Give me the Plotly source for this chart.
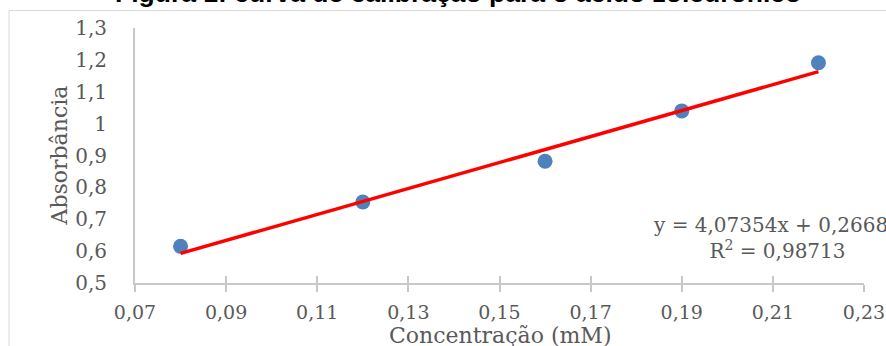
import plotly.graph_objects as go

# Data
concentracao = [0.08, 0.12, 0.16, 0.19, 0.22]
absorbancia = [0.615, 0.754, 0.882, 1.040, 1.191]
slope = 4.07354
intercept = 0.26687
r2 = 0.98713
x_ticks = [0.07, 0.09, 0.11, 0.13, 0.15, 0.17, 0.19, 0.21, 0.23]
y_ticks = [0.5, 0.6, 0.7, 0.8, 0.9, 1.0, 1.1, 1.2, 1.3]

title_text = "Figura 1: curva de calibração para o ácido zoledrônico"
x_title = "Concentração (mM)"
y_title = "Absorbância"

def fmt(v, d):
    return f"{v:.{d}f}".replace(".", ",")

fit_x = [concentracao[0], concentracao[-1]]
fit_y = [slope * v + intercept for v in fit_x]

SERIF = "DejaVu Serif"
GRAY = "#595959"

fig = go.Figure()
fig.add_trace(go.Scatter(
    x=concentracao, y=absorbancia, mode="markers",
    marker=dict(color="#4F81BD", size=15, line=dict(width=0)),
    showlegend=False, hoverinfo="skip"))
fig.add_trace(go.Scatter(
    x=fit_x, y=fit_y, mode="lines",
    line=dict(color="#FF0000", width=3.5),
    showlegend=False, hoverinfo="skip"))
# invisible trace so the overlay axis (inside tick marks) is drawn
fig.add_trace(go.Scatter(
    x=[x_ticks[0]], y=[y_ticks[0]], xaxis="x2", mode="markers",
    marker=dict(opacity=0), showlegend=False, hoverinfo="skip"))

fig.update_layout(
    width=886, height=346,
    margin=dict(l=135, r=22, t=27.5, b=63, autoexpand=False),
    paper_bgcolor="white", plot_bgcolor="white",
    separators=", ",
    xaxis=dict(
        range=[x_ticks[0], x_ticks[-1]], tickvals=x_ticks,
        ticktext=[fmt(v, 2) for v in x_ticks],
        showgrid=False, zeroline=False, automargin=False,
        showline=True, linecolor="#C8C8C8", linewidth=2,
        ticks="outside", ticklen=7, tickwidth=2, tickcolor="#C8C8C8",
        ticklabelstandoff=4,
        tickfont=dict(family=SERIF, size=19, color=GRAY),
    ),
    xaxis2=dict(
        range=[x_ticks[0], x_ticks[-1]], tickvals=x_ticks,
        overlaying="x", anchor="y", side="bottom", automargin=False,
        showgrid=False, zeroline=False, showline=False,
        ticks="inside", ticklen=7, tickwidth=2, tickcolor="#C8C8C8",
        showticklabels=False,
    ),
    yaxis=dict(
        range=[y_ticks[0], y_ticks[-1]], tickvals=y_ticks,
        ticktext=[fmt(v, 1).replace(",0", "") if v == 1.0 else fmt(v, 1) for v in y_ticks],
        showgrid=False, zeroline=False, automargin=False,
        showline=True, linecolor="#C8C8C8", linewidth=2,
        ticks="", ticklabelstandoff=22,
        tickfont=dict(family=SERIF, size=20, color=GRAY),
    ),
    shapes=[dict(
        type="rect", xref="paper", yref="paper",
        x0=-0.1728, x1=1.05, y0=-0.35, y1=1.0685,
        line=dict(color="#D9D9D9", width=1), fillcolor="rgba(0,0,0,0)",
        layer="below")],
    annotations=[
        dict(text=title_text, xref="paper", yref="paper",
             x=0.443, y=1.072, xanchor="center", yanchor="bottom",
             showarrow=False,
             font=dict(family="Liberation Sans", size=26.5, color="black", weight="bold")),
        dict(text=y_title, xref="paper", yref="paper",
             x=(59 - 135) / 729, y=0.5, textangle=-90,
             xanchor="center", yanchor="middle", showarrow=False,
             font=dict(family=SERIF, size=22, color=GRAY)),
        dict(text=x_title, xref="paper", yref="paper",
             x=0.5, y=(283 - 336) / 255.5, xanchor="center", yanchor="middle",
             showarrow=False,
             font=dict(family=SERIF, size=22, color=GRAY)),
        dict(text=f"y = {fmt(slope, 5)}x + {fmt(intercept, 5)}<br>R<sup>2</sup> = {fmt(r2, 5)}",
             xref="paper", yref="paper", x=0.881, y=0.178,
             xanchor="center", yanchor="middle", align="center",
             showarrow=False,
             font=dict(family=SERIF, size=20, color=GRAY)),
    ],
)

fig.write_html("out.html")
